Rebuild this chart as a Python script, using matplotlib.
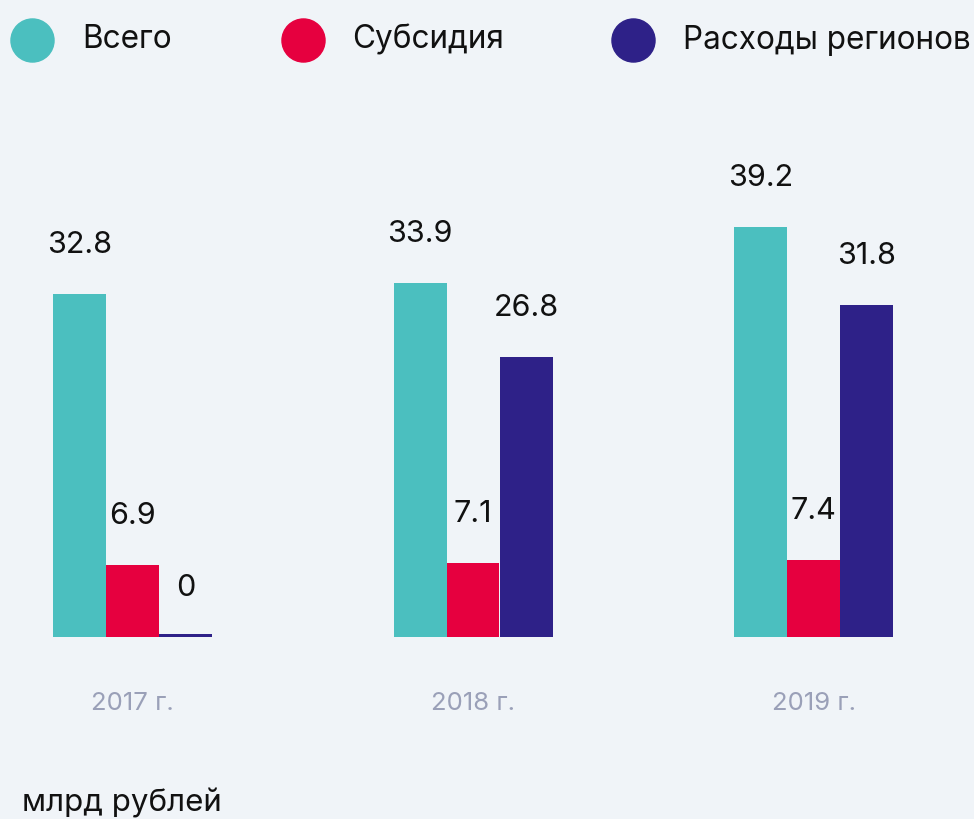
import matplotlib
matplotlib.use("Agg")
import matplotlib.pyplot as plt
import numpy as np
from matplotlib.lines import Line2D

years = ["2017 г.", "2018 г.", "2019 г."]
series_names = ["Всего", "Субсидия", "Расходы регионов"]
total = [32.8, 33.9, 39.2]
subsidy = [6.9, 7.1, 7.4]
regional = [0, 26.8, 31.8]
unit_label = "млрд рублей"

colors = ["#4bbfbf", "#e6003f", "#2e2188"]
bg = "#f0f4f8"
W, H = 974, 819
plt.rcParams['font.family'] = ['Inter', 'DejaVu Sans']

fig = plt.figure(figsize=(W / 100, H / 100), dpi=100, facecolor=bg)
base_px = 637
top_px = 80
ax = fig.add_axes([0, (H - base_px) / H, 1, (base_px - top_px) / H])
ax.set_facecolor(bg)

spacing = 340.5
x = np.arange(len(years))
bw = 53 / spacing
ppu = 10.45
ax.set_xlim(-132.5 / spacing, (W - 132.5) / spacing)
ax.set_ylim(0, (base_px - top_px) / ppu)

offset = 49 / ppu
for i, (vals, c) in enumerate(zip([total, subsidy, regional], colors)):
    vals = np.array(vals, dtype=float)
    xs = x + (i - 1) * bw
    ax.bar(xs, np.maximum(vals, 0.25), width=bw, color=c, linewidth=0)
    for xv, v in zip(xs, vals):
        lab = f"{v:g}" if v != 0 else "0"
        ax.text(xv, v + offset, lab, ha="center", va="center", fontsize=22, color="#111111")

for s in ax.spines.values():
    s.set_visible(False)
ax.set_yticks([])
ax.set_xticks([])
for xi, yl in zip(x, years):
    ax.annotate(yl, xy=(xi, 0), xytext=(0, -67), textcoords="offset pixels",
                ha="center", va="center", fontsize=18.5, color="#9aa0b8")

# legend
leg_circle_x = [32, 303, 633]
leg_text_x = [82, 352, 683]
for cx, tx, c, name in zip(leg_circle_x, leg_text_x, colors, series_names):
    fig.add_artist(Line2D([cx / W], [1 - 40 / H], marker="o", markersize=31,
                          color=c, linestyle="none", transform=fig.transFigure))
    fig.text(tx / W, 1 - 40 / H, name, ha="left", va="center", fontsize=22.7, color="#111111")

fig.text(22 / W, 1 - 803 / H, unit_label, ha="left", va="center", fontsize=22.5, color="#111111")

fig.savefig("out.png", dpi=100, facecolor=bg)
